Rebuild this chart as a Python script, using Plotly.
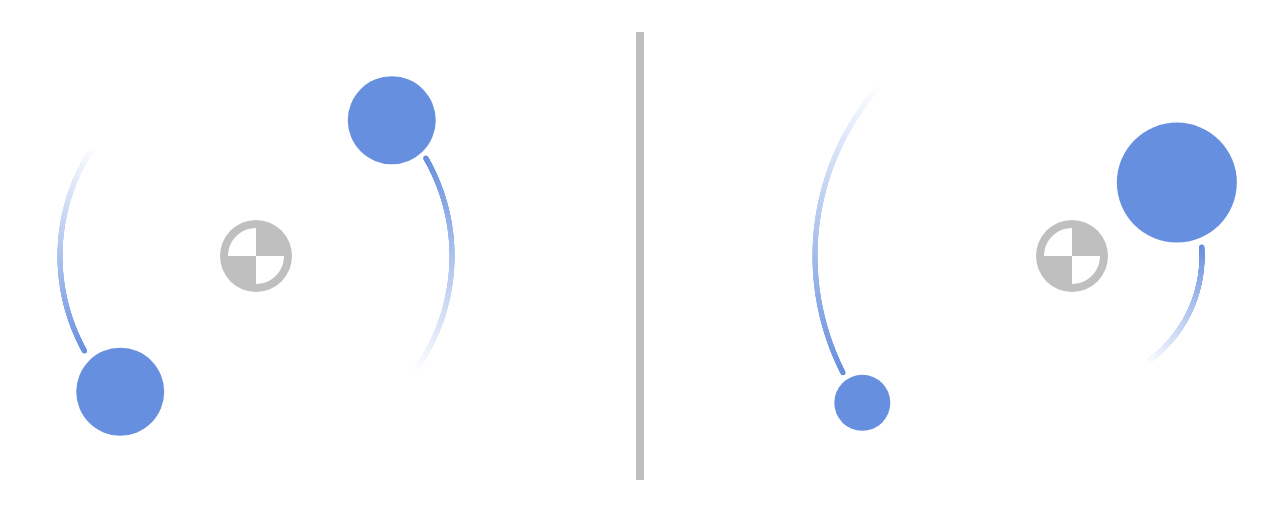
import numpy as np
import plotly.graph_objects as go

# two panels: centre of mass, bodies (orbit radius, angle deg, diameter px), trail arcs
centers = [(256, 256), (1072, 256)]
body_radius = [[192, 192], [256, 128]]
body_angle = [[135, -45], [145, -35]]
body_size = [[88, 88], [56, 120]]
trail_radius = [[196, 196], [257, 130]]
trail_start = [[151, -30], [153, -4]]
trail_end = [[215, 37], [222, 57]]

BLUE = np.array([103, 143, 223])
GRAY = "#bfbfbf"

fig = go.Figure()

for p, (cx, cy) in enumerate(centers):
    for b in range(2):
        a = np.radians(np.linspace(trail_start[p][b], trail_end[p][b], 400))
        r = trail_radius[p][b]
        w = np.linspace(1, 0, 400)
        cols = []
        for v in w:
            c = BLUE * v + 255 * (1 - v)
            cols.append(f"rgb({c[0]:.0f},{c[1]:.0f},{c[2]:.0f})")
        fig.add_trace(go.Scatter(x=cx + r * np.cos(a), y=cy + r * np.sin(a), mode="markers",
                                 marker=dict(size=5, color=cols, line_width=0),
                                 hoverinfo="skip", showlegend=False))
        ang = np.radians(body_angle[p][b])
        fig.add_trace(go.Scatter(x=[cx + body_radius[p][b] * np.cos(ang)],
                                 y=[cy + body_radius[p][b] * np.sin(ang)], mode="markers",
                                 marker=dict(size=body_size[p][b], color="rgb(103,143,223)", line_width=0),
                                 hoverinfo="skip", showlegend=False))
    # centre of mass symbol
    fig.add_shape(type="circle", x0=cx - 36, x1=cx + 36, y0=cy - 36, y1=cy + 36,
                  line_width=0, fillcolor=GRAY, layer="above")
    for a0 in (180, 0):
        t = np.radians(np.linspace(a0, a0 + 90, 30))
        pts = " ".join(f"L{cx + 28 * np.cos(v):.1f},{cy + 28 * np.sin(v):.1f}" for v in t)
        fig.add_shape(type="path", path=f"M{cx},{cy} {pts} Z", fillcolor="white",
                      line_width=0, layer="above")

fig.add_shape(type="line", x0=640, x1=640, y0=32, y1=480, line=dict(color=GRAY, width=8))

fig.update_layout(width=1280, height=512, margin=dict(l=0, r=0, t=0, b=0),
                  paper_bgcolor="white", plot_bgcolor="white",
                  xaxis=dict(range=[8, 1288], visible=False),
                  yaxis=dict(range=[520, 8], visible=False))
fig.write_html("out.html")
